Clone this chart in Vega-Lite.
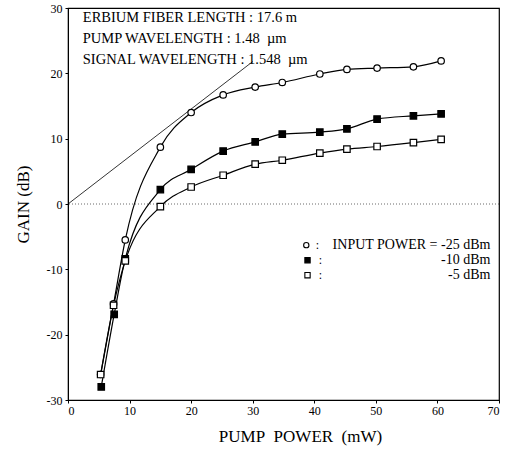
{
  "$schema": "https://vega.github.io/schema/vega-lite/v6.json",
  "autosize": {"type": "none"},
  "padding": {"left": 68, "top": 8, "right": 19, "bottom": 51},
  "width": 431,
  "height": 392,
  "background": "white",
  "config": {
    "view": {"stroke": "black", "strokeWidth": 1.2},
    "font": "Liberation Serif",
    "axis": {
      "labelFont": "Liberation Serif",
      "titleFont": "Liberation Serif",
      "labelColor": "black",
      "titleColor": "black",
      "domainColor": "black",
      "tickColor": "black",
      "grid": false,
      "labelFontSize": 12,
      "titleFontSize": 17,
      "titleFontWeight": "normal"
    }
  },
  "datasets": {
    "gain": [
      {"series": "-25 dBm", "pump": 5.3, "gain": -26.1},
      {"series": "-25 dBm", "pump": 7.4, "gain": -15.3},
      {"series": "-25 dBm", "pump": 9.3, "gain": -5.5},
      {"series": "-25 dBm", "pump": 15.0, "gain": 8.7},
      {"series": "-25 dBm", "pump": 20.0, "gain": 14.0},
      {"series": "-25 dBm", "pump": 25.2, "gain": 16.7},
      {"series": "-25 dBm", "pump": 30.4, "gain": 17.9},
      {"series": "-25 dBm", "pump": 34.8, "gain": 18.6},
      {"series": "-25 dBm", "pump": 40.9, "gain": 19.9},
      {"series": "-25 dBm", "pump": 45.3, "gain": 20.6},
      {"series": "-25 dBm", "pump": 50.2, "gain": 20.8},
      {"series": "-25 dBm", "pump": 56.1, "gain": 21.0},
      {"series": "-25 dBm", "pump": 60.6, "gain": 21.9},
      {"series": "-10 dBm", "pump": 5.4, "gain": -28.0},
      {"series": "-10 dBm", "pump": 7.5, "gain": -16.9},
      {"series": "-10 dBm", "pump": 9.3, "gain": -8.4},
      {"series": "-10 dBm", "pump": 15.0, "gain": 2.2},
      {"series": "-10 dBm", "pump": 20.0, "gain": 5.3},
      {"series": "-10 dBm", "pump": 25.2, "gain": 8.1},
      {"series": "-10 dBm", "pump": 30.4, "gain": 9.5},
      {"series": "-10 dBm", "pump": 34.8, "gain": 10.7},
      {"series": "-10 dBm", "pump": 40.9, "gain": 11.0},
      {"series": "-10 dBm", "pump": 45.3, "gain": 11.5},
      {"series": "-10 dBm", "pump": 50.2, "gain": 13.0},
      {"series": "-10 dBm", "pump": 56.1, "gain": 13.5},
      {"series": "-10 dBm", "pump": 60.6, "gain": 13.8},
      {"series": "-5 dBm", "pump": 5.3, "gain": -26.1},
      {"series": "-5 dBm", "pump": 7.4, "gain": -15.5},
      {"series": "-5 dBm", "pump": 9.3, "gain": -8.7},
      {"series": "-5 dBm", "pump": 15.0, "gain": -0.4},
      {"series": "-5 dBm", "pump": 20.0, "gain": 2.6},
      {"series": "-5 dBm", "pump": 25.2, "gain": 4.4},
      {"series": "-5 dBm", "pump": 30.4, "gain": 6.1},
      {"series": "-5 dBm", "pump": 34.8, "gain": 6.7},
      {"series": "-5 dBm", "pump": 40.9, "gain": 7.8},
      {"series": "-5 dBm", "pump": 45.3, "gain": 8.4},
      {"series": "-5 dBm", "pump": 50.2, "gain": 8.8},
      {"series": "-5 dBm", "pump": 56.1, "gain": 9.4},
      {"series": "-5 dBm", "pump": 60.6, "gain": 9.9}
    ],
    "tangent": [
      {"pump": 0, "gain": 0},
      {"pump": 30.0, "gain": 21.8}
    ]
  },
  "layer": [
    {
      "data": {"values": [{"y": 0}]},
      "mark": {"type": "rule", "strokeDash": [1, 2], "strokeWidth": 0.8, "color": "#444"},
      "encoding": {"y": {"field": "y", "type": "quantitative"}}
    },
    {
      "data": {"name": "tangent"},
      "mark": {"type": "line", "color": "black", "strokeWidth": 0.8},
      "encoding": {
        "x": {"field": "pump", "type": "quantitative"},
        "y": {"field": "gain", "type": "quantitative"}
      }
    },
    {
      "data": {"name": "gain"},
      "mark": {"type": "line", "color": "black", "strokeWidth": 1.2, "interpolate": "monotone"},
      "encoding": {
        "x": {
          "field": "pump", "type": "quantitative",
          "scale": {"domain": [0, 70], "nice": false},
          "axis": {"values": [0, 10, 20, 30, 40, 50, 60, 70], "tickSize": 3, "labelPadding": 2, "title": "PUMP\u00a0\u00a0POWER\u00a0\u00a0(mW)", "titlePadding": 12, "titleX": 232}
        },
        "y": {
          "field": "gain", "type": "quantitative",
          "scale": {"domain": [-30, 30], "nice": false},
          "axis": {"values": [-30, -20, -10, 0, 10, 20, 30], "tickSize": 3, "labelPadding": 3, "title": "GAIN (dB)", "titlePadding": 14,
                   "labelExpr": "datum.value < 0 ? '-' + abs(datum.value) : '' + datum.value"}
        },
        "detail": {"field": "series"}
      }
    },
    {
      "data": {"name": "gain"},
      "mark": {"type": "point", "strokeWidth": 1.2, "size": 42, "opacity": 1},
      "encoding": {
        "x": {"field": "pump", "type": "quantitative"},
        "y": {"field": "gain", "type": "quantitative"},
        "shape": {"field": "series", "type": "nominal", "scale": {"domain": ["-25 dBm", "-10 dBm", "-5 dBm"], "range": ["circle", "square", "square"]}, "legend": null},
        "fill": {"field": "series", "type": "nominal", "scale": {"domain": ["-25 dBm", "-10 dBm", "-5 dBm"], "range": ["white", "black", "white"]}, "legend": null},
        "stroke": {"value": "black"}
      }
    },
    {
      "data": {"values": [{"text": "ERBIUM FIBER LENGTH : 17.6 m"}]},
      "mark": {"type": "text", "align": "left", "baseline": "middle", "fontSize": 14.5, "color": "black"},
      "encoding": {"x": {"datum": 2.4}, "y": {"datum": 28.5}, "text": {"field": "text"}}
    },
    {
      "data": {"values": [{"text": "PUMP WAVELENGTH : 1.48\u00a0\u00a0µm"}]},
      "mark": {"type": "text", "align": "left", "baseline": "middle", "fontSize": 14.5, "color": "black"},
      "encoding": {"x": {"datum": 2.4}, "y": {"datum": 25.2}, "text": {"field": "text"}}
    },
    {
      "data": {"values": [{"text": "SIGNAL WAVELENGTH : 1.548\u00a0\u00a0µm"}]},
      "mark": {"type": "text", "align": "left", "baseline": "middle", "fontSize": 14.5, "color": "black"},
      "encoding": {"x": {"datum": 2.4}, "y": {"datum": 22.0}, "text": {"field": "text"}}
    },
    {
      "data": {"values": [{"label": "INPUT POWER = -25 dBm"}]},
      "layer": [
        {"mark": {"type": "point", "shape": "circle", "size": 28, "fill": "white", "stroke": "black", "strokeWidth": 1.1, "opacity": 1},
         "encoding": {"x": {"datum": 38.7}, "y": {"datum": -6.3}}},
        {"mark": {"type": "text", "text": ":", "fontSize": 12, "baseline": "middle", "align": "center"},
         "encoding": {"x": {"datum": 40.5}, "y": {"datum": -6.3}}},
        {"mark": {"type": "text", "fontSize": 14, "baseline": "middle", "align": "right"},
         "encoding": {"x": {"datum": 68.6}, "y": {"datum": -6.3}, "text": {"field": "label"}}}
      ]
    },
    {
      "data": {"values": [{"label": "-10 dBm"}]},
      "layer": [
        {"mark": {"type": "point", "shape": "square", "size": 28, "fill": "black", "stroke": "black", "strokeWidth": 1.1, "opacity": 1},
         "encoding": {"x": {"datum": 38.9}, "y": {"datum": -8.6}}},
        {"mark": {"type": "text", "text": ":", "fontSize": 12, "baseline": "middle", "align": "center"},
         "encoding": {"x": {"datum": 41.0}, "y": {"datum": -8.6}}},
        {"mark": {"type": "text", "fontSize": 14, "baseline": "middle", "align": "right"},
         "encoding": {"x": {"datum": 68.6}, "y": {"datum": -8.6}, "text": {"field": "label"}}}
      ]
    },
    {
      "data": {"values": [{"label": "-5 dBm"}]},
      "layer": [
        {"mark": {"type": "point", "shape": "square", "size": 28, "fill": "white", "stroke": "black", "strokeWidth": 1.1, "opacity": 1},
         "encoding": {"x": {"datum": 38.9}, "y": {"datum": -10.9}}},
        {"mark": {"type": "text", "text": ":", "fontSize": 12, "baseline": "middle", "align": "center"},
         "encoding": {"x": {"datum": 41.0}, "y": {"datum": -10.9}}},
        {"mark": {"type": "text", "fontSize": 14, "baseline": "middle", "align": "right"},
         "encoding": {"x": {"datum": 68.6}, "y": {"datum": -10.9}, "text": {"field": "label"}}}
      ]
    }
  ]
}
